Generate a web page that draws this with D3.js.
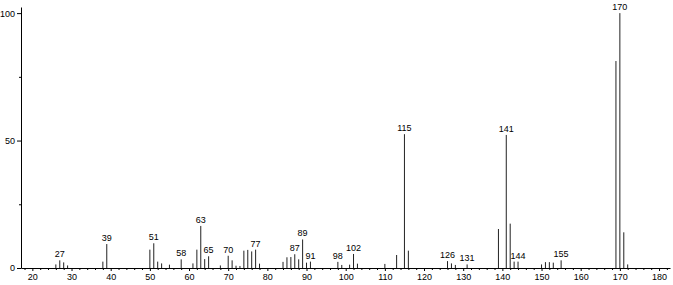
<!DOCTYPE html>
<html>
<head>
<meta charset="utf-8">
<script src="https://cdn.jsdelivr.net/npm/d3@7"></script>
<style>
  html, body { margin: 0; padding: 0; background: #fff; }
  svg { display: block; }
  text { font-family: "Liberation Sans", Arial, sans-serif; font-size: 9px; fill: #000; }
</style>
</head>
<body>
<svg id="chart" width="673" height="285"></svg>
<script>
// m/z values of the peaks
const mz = [26, 27, 28, 29, 38, 39, 50, 51, 52, 53, 55, 58, 61, 62, 63, 64, 65, 68, 70, 71, 72, 73,
  74, 75, 76, 77, 78, 84, 85, 86, 87, 88, 89, 90, 91, 98, 99, 101, 102, 103, 110, 113, 115, 116,
  126, 127, 128, 131, 139, 141, 142, 143, 144, 150, 151, 152, 153, 155, 169, 170, 171, 172];
// relative intensity (%)
const intensity = [1.4, 3.0, 2.2, 1.0, 2.5, 9.4, 7.2, 9.7, 2.5, 1.8, 1.3, 3.4, 1.8, 7.2, 16.5, 3.5, 4.6, 1.0, 4.8, 3.0, 0.9, 0.8,
  6.8, 7.1, 6.5, 7.2, 1.7, 2.4, 4.2, 4.3, 5.4, 3.4, 11.2, 2.1, 2.5, 2.4, 1.2, 1.3, 5.5, 1.7, 1.6, 5.1, 52.5, 6.8,
  2.7, 1.8, 1.2, 1.4, 15.3, 52.2, 17.4, 2.5, 2.5, 1.4, 2.3, 2.3, 2.1, 3.0, 81.2, 100, 14.0, 1.4];
// peaks carrying a label
const labeledPeaks = [27, 39, 51, 58, 63, 65, 70, 77, 87, 89, 91, 98, 102, 115, 126, 131, 141, 144, 155, 170];
// axis ticks
const xMajorTicks = [20, 30, 40, 50, 60, 70, 80, 90, 100, 110, 120, 130, 140, 150, 160, 170, 180];
const yMajorTicks = [0, 50, 100];
const yMinorTicks = [25, 75];

const peaks = mz.map((m, i) => ({ m, v: intensity[i] }));

const svg = d3.select("#chart");
const x = d3.scaleLinear().domain([17.1, 182.8]).range([21, 670]);
const y = d3.scaleLinear().domain([0, 102.4]).range([268, 7]);

// bars
svg.append("g").selectAll("line").data(peaks).join("line")
  .attr("x1", d => x(d.m)).attr("x2", d => x(d.m))
  .attr("y1", y(0)).attr("y2", d => y(d.v))
  .attr("stroke", "#222").attr("stroke-width", 1);

// peak labels
svg.append("g").selectAll("text").data(peaks.filter(d => labeledPeaks.includes(d.m))).join("text")
  .attr("x", d => x(d.m)).attr("y", d => y(d.v) - 3)
  .attr("text-anchor", "middle")
  .text(d => d.m);

// x axis: minor ticks
const minorX = d3.range(18, 183, 2).filter(v => v % 10 !== 0);
svg.append("g").attr("transform", `translate(0,${y(0)})`)
  .call(d3.axisBottom(x).tickValues(minorX).tickSize(2).tickFormat(""))
  .call(g => g.select(".domain").remove());
// x axis: major ticks
const gx = svg.append("g").attr("transform", `translate(0,${y(0)})`)
  .call(d3.axisBottom(x).tickValues(xMajorTicks).tickSize(3).tickPadding(3).tickSizeOuter(0));
gx.selectAll("text").style("font-family", "'Liberation Sans', Arial, sans-serif").style("font-size", "9px");

// y axis
svg.append("g").attr("transform", `translate(21,0)`)
  .call(d3.axisLeft(y).tickValues(yMinorTicks).tickSize(2).tickFormat(""))
  .call(g => g.select(".domain").remove());
const gy = svg.append("g").attr("transform", `translate(21,0)`)
  .call(d3.axisLeft(y).tickValues(yMajorTicks).tickSize(4).tickPadding(2).tickSizeOuter(0));
gy.selectAll("text").style("font-family", "'Liberation Sans', Arial, sans-serif").style("font-size", "9px");
svg.selectAll(".domain, .tick line").attr("stroke", "#000");
</script>
</body>
</html>
